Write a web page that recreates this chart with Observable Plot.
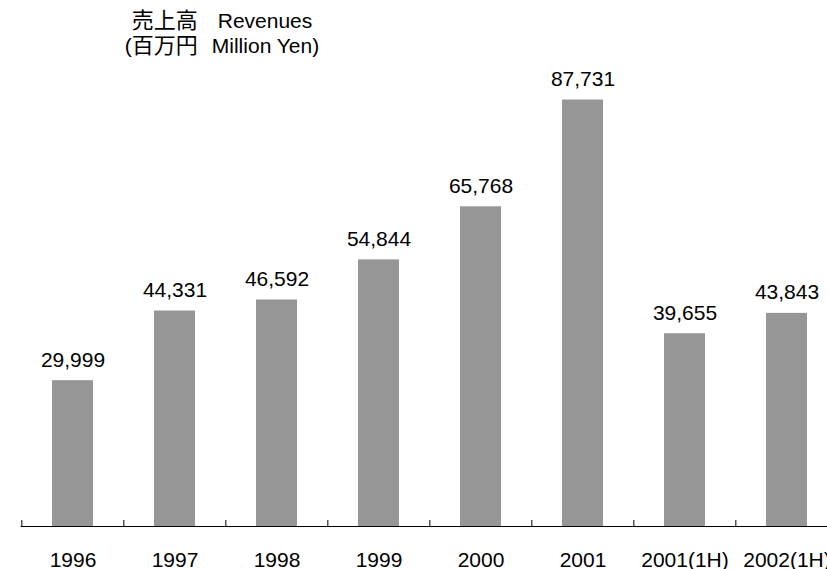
<!DOCTYPE html>
<html>
<head>
<meta charset="utf-8">
<script src="https://cdn.jsdelivr.net/npm/d3@7"></script>
<script src="https://cdn.jsdelivr.net/npm/@observablehq/plot@0.6"></script>
<style>
  html, body { margin: 0; padding: 0; background: white; overflow: hidden; }
  #wrap { width: 827px; height: 569px; position: relative; }
  #title {
    box-sizing: border-box;
    height: 62px; width: 444px; padding-top: 8px;
    text-align: center; white-space: pre;
    font-family: "Liberation Sans", Arial, "Noto Sans CJK JP", sans-serif;
    font-size: 21px; line-height: 25px; color: #000;
  }
  #title > div { height: 25px; }
  #title .cjk { font-size: 22px; }
  #title .l1 .cjk { margin-right: 20px; }
  #title .l2 .cjk { margin-right: 14px; }
</style>
</head>
<body>
<div id="wrap">
  <div id="title"></div>
  <div id="chart"></div>
</div>
<script>
const titleJa = ["売上高", "(百万円"];
const titleEn = ["Revenues", "Million Yen)"];
const categories = ["1996", "1997", "1998", "1999", "2000", "2001", "2001(1H)", "2002(1H)"];
const revenues = [29999, 44331, 46592, 54844, 65768, 87731, 39655, 43843];

// Title: two lines, Japanese part + English part
const titleEl = document.getElementById("title");
titleJa.forEach((ja, i) => {
  const line = document.createElement("div");
  line.className = "l" + (i + 1);
  const jaSpan = document.createElement("span");
  if (ja.startsWith("(")) {
    line.appendChild(document.createTextNode("("));
    jaSpan.textContent = ja.slice(1);
  } else {
    jaSpan.textContent = ja;
  }
  jaSpan.className = "cjk";
  line.appendChild(jaSpan);
  line.appendChild(document.createTextNode(titleEn[i]));
  titleEl.appendChild(line);
});

const data = categories.map((c, i) => ({category: c, value: revenues[i]}));

const W = 827, H = 507;
const rangeX = [20.7, 839];
const step = (rangeX[1] - rangeX[0]) / categories.length;
const font = "'Liberation Sans', Arial, 'Noto Sans CJK JP', sans-serif";

const chart = Plot.plot({
  width: W,
  height: H,
  marginLeft: 20.7,
  marginRight: 0,
  marginTop: 26.5,
  marginBottom: 43,
  style: {fontFamily: font, fontSize: "21px", background: "white", color: "#000"},
  x: {domain: categories, range: rangeX, paddingInner: 0.6, paddingOuter: 0.3, axis: null},
  y: {domain: [0, 90000], axis: null},
  marks: [
    Plot.barY(data, {x: "category", y: "value", fill: "#969696"}),
    Plot.ruleY([0], {stroke: "#000", strokeWidth: 1}),
    Plot.ruleX(categories, {x: d => d, dx: -step / 2, y1: 0, y2: 0, insetTop: -6, stroke: "#000", strokeWidth: 1}),
    Plot.text(data, {x: "category", y: "value", text: d => d3.format(",")(d.value),
      dy: -14, lineAnchor: "bottom", fontSize: 21, fill: "#000"}),
    Plot.text(categories, {x: d => d, frameAnchor: "bottom", dy: 40, lineAnchor: "bottom",
      text: d => d, fontSize: 21, fill: "#000"})
  ]
});
document.getElementById("chart").appendChild(chart);
</script>
</body>
</html>
